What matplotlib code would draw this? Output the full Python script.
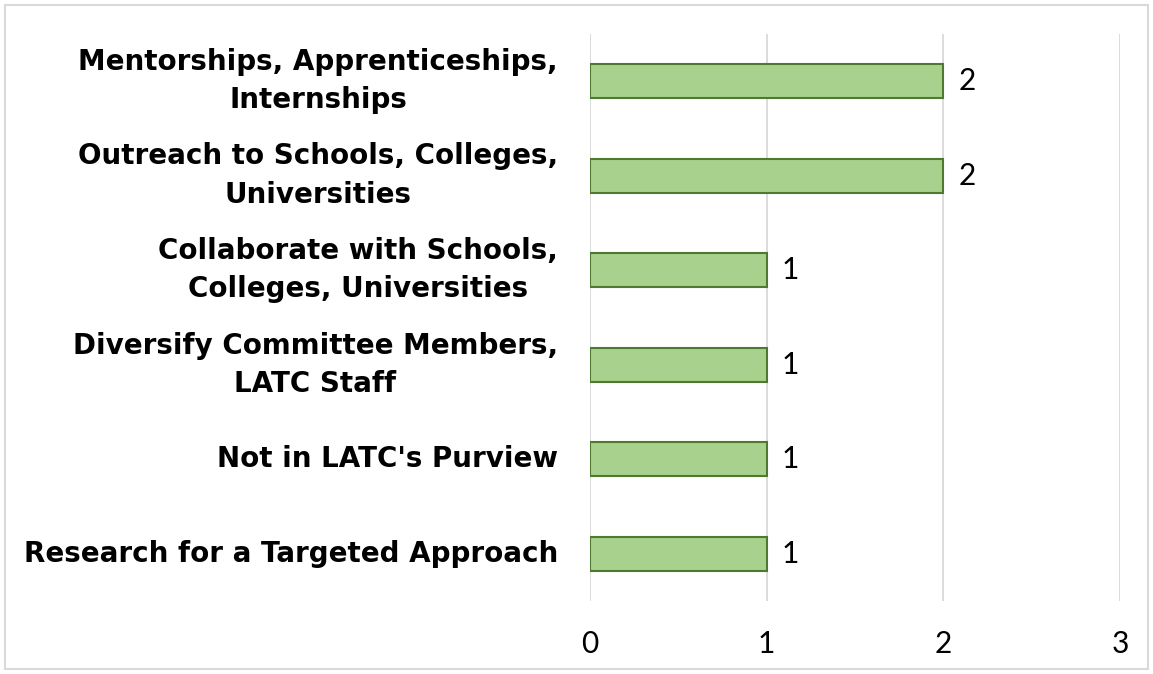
import matplotlib
matplotlib.use("Agg")
import matplotlib.pyplot as plt
from matplotlib.patches import Rectangle

categories = [
    "Mentorships, Apprenticeships,\nInternships",
    "Outreach to Schools, Colleges,\nUniversities",
    "Collaborate with Schools,\nColleges, Universities",
    "Diversify Committee Members,\nLATC Staff",
    "Not in LATC's Purview",
    "Research for a Targeted Approach",
]
values = [2, 2, 1, 1, 1, 1]
x_ticks = [0, 1, 2, 3]

fill_color = "#A9D18E"
edge_color = "#4E7A30"
grid_color = "#D9D9D9"

fig = plt.figure(figsize=(11.53, 6.74), dpi=100)
ax = fig.add_axes([590/1153, 1-601.3/674, 530/1153, (601.3-33.7)/674])

ypos = list(range(len(categories)))
ax.barh(ypos, values, height=0.36, color=fill_color, edgecolor=edge_color, linewidth=1.5, zorder=3)
ax.set_ylim(len(categories)-0.5, -0.5)
ax.set_xlim(0, 3)
ax.set_xticks(x_ticks)
ax.set_xticklabels([str(t) for t in x_ticks], fontsize=21.5, family="Lato", color="black")
ax.set_yticks(ypos)
ax.set_yticklabels(categories, fontsize=20, fontweight="bold", family="DejaVu Sans", linespacing=1.47)
for lbl in ax.get_yticklabels():
    lbl.set_horizontalalignment("right")
    lbl.set_multialignment("center")
    lbl.set_verticalalignment("center")
ax.tick_params(axis="y", length=0, pad=23)
ax.tick_params(axis="x", length=0, pad=21)
ax.grid(axis="x", color=grid_color, linewidth=1.3, zorder=0)
for s in ax.spines.values():
    s.set_visible(False)

for y, v in zip(ypos, values):
    ax.text(v + 0.085, y, str(v), va="center", ha="left", fontsize=21.5, family="Lato", color="black")

fig.patches.append(Rectangle((5/1153, 1-669/674), 1143/1153, 664/674, transform=fig.transFigure,
                             fill=False, edgecolor="#D9D9D9", linewidth=1.5))

fig.savefig("out.png", dpi=100)
